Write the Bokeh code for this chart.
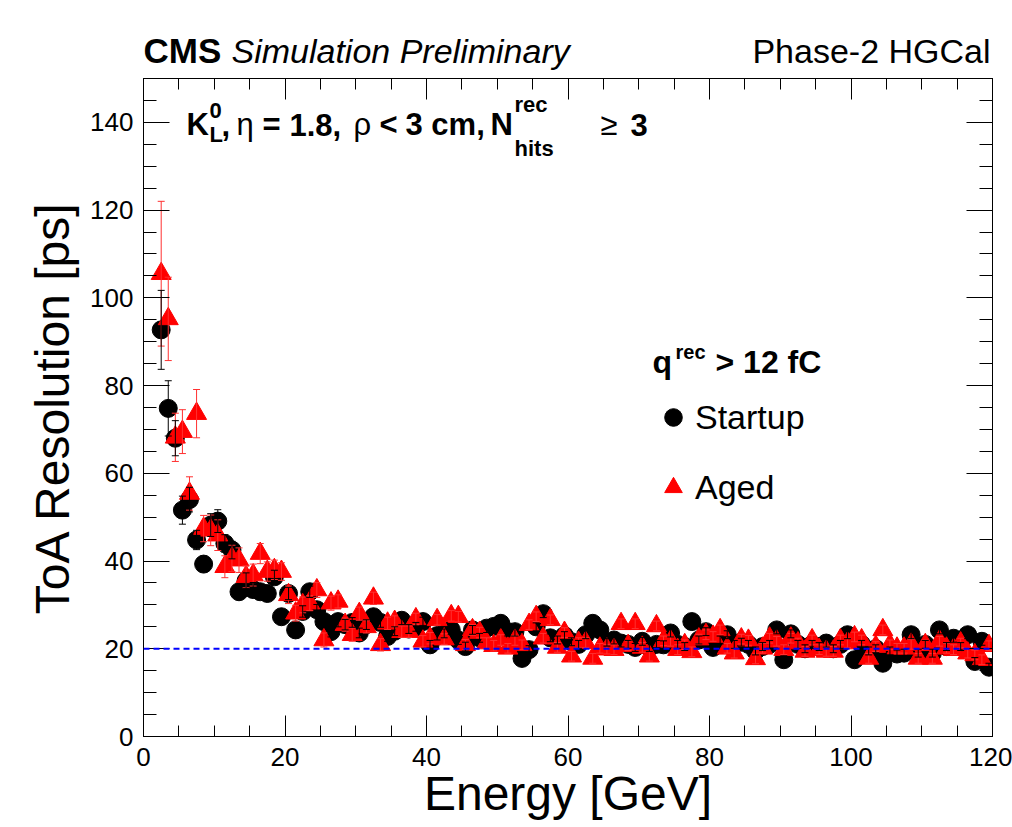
from bokeh.plotting import figure
from bokeh.layouts import column
from bokeh.models import (Range1d, ColumnDataSource, Whisker, TeeHead, Span, Label,
                          LinearAxis, SingleIntervalTicker, Legend, LegendItem,
                          CustomJSTickFormatter)
from bokeh.embed import file_html
from bokeh.resources import INLINE

# ---------------- data ----------------
energy = [2.5, 3.5, 4.5, 5.5, 6.5, 7.5, 8.5, 9.5, 10.5, 11.5, 12.5, 13.5, 14.5, 15.5,
          16.5, 17.5, 18.5, 19.5, 20.5, 21.5, 22.5, 23.5, 24.5, 25.5, 26.5, 27.5, 28.5,
          29.5, 30.5, 31.5, 32.5, 33.5, 34.5, 35.5, 36.5, 37.5, 38.5, 39.5, 40.5, 41.5,
          42.5, 43.5, 44.5, 45.5, 46.5, 47.5, 48.5, 49.5, 50.5, 51.5, 52.5, 53.5, 54.5,
          55.5, 56.5, 57.5, 58.5, 59.5, 60.5, 61.5, 62.5, 63.5, 64.5, 65.5, 66.5, 67.5,
          68.5, 69.5, 70.5, 71.5, 72.5, 73.5, 74.5, 75.5, 76.5, 77.5, 78.5, 79.5, 80.5,
          81.5, 82.5, 83.5, 84.5, 85.5, 86.5, 87.5, 88.5, 89.5, 90.5, 91.5, 92.5, 93.5,
          94.5, 95.5, 96.5, 97.5, 98.5, 99.5, 100.5, 101.5, 102.5, 103.5, 104.5, 105.5,
          106.5, 107.5, 108.5, 109.5, 110.5, 111.5, 112.5, 113.5, 114.5, 115.5, 116.5,
          117.5, 118.5, 119.5]

startup_res = [92.7, 74.8, 68.0, 51.6, 54.0, 44.8, 39.3, 48.2, 49.1, 44.0, 42.5, 33.0,
               35.5, 33.5, 33.0, 32.6, 36.4, 27.3, 32.6, 24.3, 28.5, 33.0, 28.9, 26.2,
               23.9, 26.2, 25.5, 26.0, 23.6, 25.5, 27.3, 26.0, 22.8, 24.0, 26.5, 24.5,
               25.0, 26.2, 20.9, 23.0, 23.5, 24.3, 22.0, 20.5, 24.3, 22.5, 24.7, 25.1,
               25.8, 23.9, 23.9, 17.8, 19.8, 25.0, 28.0, 22.5, 22.0, 23.0, 21.6, 21.0,
               23.2, 25.8, 24.3, 21.5, 22.0, 21.3, 21.0, 20.3, 21.7, 20.3, 21.0, 20.9,
               23.6, 21.0, 20.5, 26.2, 22.0, 23.9, 20.3, 22.0, 23.2, 21.0, 21.5, 21.0,
               19.5, 20.5, 21.0, 24.3, 17.5, 23.4, 21.0, 20.0, 21.0, 20.5, 21.3, 20.0,
               21.0, 23.2, 17.5, 21.0, 19.5, 20.0, 16.7, 19.5, 18.8, 19.0, 23.2, 19.0,
               21.0, 19.0, 24.3, 20.5, 22.4, 20.5, 23.2, 17.1, 21.7, 15.8]

startup_err = [9.0, 6.3, 4.0, 3.2, 2.8, 2.2, 1.8, 2.6, 2.6, 2.0, 2.0, 1.8, 1.8, 1.6, 1.6,
               1.5, 1.5, 1.4, 1.4, 1.3, 1.3, 1.3, 1.2, 1.2, 1.2, 1.2, 1.2, 1.1, 1.1, 1.1,
               1.1, 1.1, 1.1, 1.0, 1.0, 1.0, 1.0, 1.0, 1.0, 1.0, 1.0, 1.0, 1.0, 1.0, 1.0,
               1.0, 1.0, 1.0, 1.0, 1.0, 1.0, 0.9, 0.9, 0.9, 0.9, 0.9, 0.9, 0.9, 0.9, 0.9,
               0.9, 0.9, 0.9, 0.9, 0.9, 0.9, 0.9, 0.9, 0.9, 0.9, 0.9, 0.9, 0.9, 0.9, 0.9,
               0.9, 0.9, 0.9, 0.9, 0.9, 0.9, 0.9, 0.9, 0.9, 0.9, 0.9, 0.9, 0.9, 0.9, 0.9,
               0.9, 0.9, 0.9, 0.9, 0.9, 0.9, 0.9, 0.9, 0.9, 0.9, 0.9, 0.9, 0.9, 0.9, 0.9,
               0.9, 0.9, 0.9, 0.9, 0.9, 0.9, 0.9, 0.9, 0.9, 0.9, 0.9, 0.9, 0.9]

aged_res = [105.5, 95.2, 68.2, 69.5, 55.4, 73.6, 47.4, 47.0, 45.9, 38.7, 40.6, 40.2,
            36.4, 36.8, 41.7, 37.6, 38.0, 37.6, 32.3, 28.1, 30.0, 30.4, 33.4, 22.0,
            30.4, 30.8, 25.5, 23.2, 28.0, 25.0, 31.5, 20.9, 25.8, 26.2, 23.9, 23.9,
            26.8, 21.7, 22.4, 26.6, 22.2, 27.5, 27.3, 20.9, 24.3, 23.7, 21.3, 20.7,
            22.0, 20.1, 21.9, 20.9, 25.5, 27.3, 22.4, 26.6, 20.3, 23.7, 18.3, 21.4,
            21.4, 17.8, 20.1, 19.9, 19.8, 25.7, 20.7, 25.7, 20.3, 18.3, 25.2, 21.8,
            21.7, 19.8, 20.9, 19.3, 22.2, 23.2, 22.8, 24.3, 20.1, 19.0, 22.2, 21.9,
            17.7, 20.1, 22.4, 21.7, 19.8, 22.4, 21.3, 19.4, 22.0, 19.8, 19.4, 19.4,
            22.0, 21.3, 22.7, 22.0, 17.8, 20.5, 24.3, 20.9, 20.1, 20.1, 21.0, 17.8,
            20.9, 17.8, 21.7, 20.1, 19.8, 21.3, 19.0, 18.6, 17.5, 20.7]

aged_err = [16.5, 9.5, 5.5, 5.0, 3.8, 5.5, 3.0, 3.5, 3.5, 2.5, 3.0, 2.8, 2.5, 2.5, 2.3,
            2.2, 2.2, 2.0, 2.0, 1.8, 1.8, 1.7, 1.7, 1.6, 1.6, 1.5, 1.5, 1.5, 1.5, 1.4,
            1.4, 1.4, 1.4, 1.3, 1.3, 1.3, 1.3, 1.3, 1.3, 1.2, 1.2, 1.2, 1.2, 1.2, 1.2,
            1.2, 1.2, 1.2, 1.2, 1.1, 1.1, 1.1, 1.1, 1.1, 1.1, 1.1, 1.1, 1.1, 1.1, 1.1,
            1.1, 1.1, 1.1, 1.1, 1.1, 1.1, 1.1, 1.1, 1.1, 1.1, 1.1, 1.1, 1.1, 1.1, 1.1,
            1.1, 1.1, 1.1, 1.1, 1.1, 1.1, 1.1, 1.1, 1.1, 1.1, 1.1, 1.1, 1.1, 1.1, 1.1,
            1.1, 1.1, 1.1, 1.1, 1.1, 1.1, 1.1, 1.1, 1.1, 1.1, 1.1, 1.1, 1.1, 1.1, 1.1,
            1.1, 1.1, 1.1, 1.1, 1.1, 1.1, 1.1, 1.1, 1.1, 1.1, 1.1, 1.1, 1.1]

reference_res = 20
series_labels = ["Startup", "Aged"]
x_ticks_interval = 20
y_ticks_interval = 20

# ---------------- layout constants ----------------
FONT = "Liberation Sans"
W, H = 1012, 827
HEAD_H = 70                  # header strip height
FRAME_L, FRAME_R, FRAME_T, FRAME_B = 143, 992, 78, 736   # screen px
SHIFT = 0.3465               # empirical baseline correction (fraction of font size)

# ---------------- header strip ----------------
# (the column layout aligns this strip's frame with the main plot's frame,
#  so the x range is expressed in screen pixels of that frame)
head = figure(width=W, height=HEAD_H, x_range=Range1d(FRAME_L, FRAME_R),
              y_range=Range1d(0, HEAD_H),
              output_backend="svg", toolbar_location=None, min_border=0,
              x_axis_type=None, y_axis_type=None)
head.outline_line_color = None
head.grid.visible = False
head.background_fill_color = "white"
head.border_fill_color = "white"


def head_txt(text, xs, baseline, size, style, align="left"):
    head.add_layout(Label(x=xs, y=HEAD_H - baseline + SHIFT * size, text=text,
                          text_font=FONT, text_font_size=f"{size}px",
                          text_font_style=style, text_color="black",
                          text_align=align, text_baseline="alphabetic"))


head_txt("CMS", 143, 62, 35, "bold")
head_txt("Simulation Preliminary", 231, 62, 34, "italic")
head_txt("Phase-2 HGCal", 990, 62, 34, "normal", align="right")

# ---------------- main figure ----------------
MH = H - HEAD_H
p = figure(width=W, height=MH, x_range=Range1d(0, 120), y_range=Range1d(0, 150),
           output_backend="svg", toolbar_location=None,
           min_border_left=FRAME_L, min_border_right=W - FRAME_R,
           min_border_top=FRAME_T - HEAD_H, min_border_bottom=MH - (FRAME_B - HEAD_H))
p.xgrid.visible = False
p.ygrid.visible = False
p.outline_line_color = "black"
p.outline_line_width = 1
p.background_fill_color = "white"
p.border_fill_color = "white"

xt = SingleIntervalTicker(interval=x_ticks_interval, num_minor_ticks=4)
yt = SingleIntervalTicker(interval=y_ticks_interval, num_minor_ticks=4)


def style_axis(ax, tin, tmin):
    ax.axis_line_color = "black"
    ax.major_tick_line_color = "black"
    ax.minor_tick_line_color = "black"
    ax.major_tick_in = tin
    ax.major_tick_out = 0
    ax.minor_tick_in = tmin
    ax.minor_tick_out = 0
    ax.major_label_text_font = FONT
    ax.major_label_text_font_size = "26px"
    ax.major_label_text_color = "black"
    ax.axis_label_text_font = FONT
    ax.axis_label_text_font_size = "48px"
    ax.axis_label_text_font_style = "normal"
    ax.axis_label_text_color = "black"


p.xaxis.ticker = xt
p.yaxis.ticker = yt
style_axis(p.xaxis[0], 21, 11)
style_axis(p.yaxis[0], 26, 13)
p.xaxis.axis_label = "Energy [GeV]"
p.yaxis.axis_label = "ToA Resolution [ps]"
p.xaxis.major_label_standoff = 11
p.xaxis.axis_label_standoff = -2
p.yaxis.major_label_standoff = 10
p.yaxis.axis_label_standoff = 8

blank = CustomJSTickFormatter(code="return ''")
top_ax = LinearAxis(ticker=xt, formatter=blank, major_label_standoff=0)
right_ax = LinearAxis(ticker=yt, formatter=blank, major_label_standoff=0)
style_axis(top_ax, 21, 11)
style_axis(right_ax, 26, 13)
top_ax.major_label_text_font_size = "0px"
right_ax.major_label_text_font_size = "0px"
p.add_layout(top_ax, "above")
p.add_layout(right_ax, "right")

# ---------------- data marks ----------------
src_s = ColumnDataSource(dict(
    x=energy, y=startup_res,
    lo=[v - e for v, e in zip(startup_res, startup_err)],
    hi=[v + e for v, e in zip(startup_res, startup_err)]))
src_a = ColumnDataSource(dict(
    x=energy, y=aged_res,
    lo=[v - e for v, e in zip(aged_res, aged_err)],
    hi=[v + e for v, e in zip(aged_res, aged_err)]))

w_a = Whisker(base="x", upper="hi", lower="lo", source=src_a, line_color="#ff3030",
              line_width=1, level="glyph",
              upper_head=TeeHead(size=7, line_color="#ff3030", line_width=1),
              lower_head=TeeHead(size=7, line_color="#ff3030", line_width=1))
w_s = Whisker(base="x", upper="hi", lower="lo", source=src_s, line_color="black",
              line_width=1, level="glyph",
              upper_head=TeeHead(size=7, line_color="black", line_width=1),
              lower_head=TeeHead(size=7, line_color="black", line_width=1))
p.add_layout(w_a)
p.add_layout(w_s)

r_s = p.scatter("x", "y", source=src_s, marker="circle", size=18,
                fill_color="black", line_color="black")
r_a = p.scatter("x", "y", source=src_a, marker="triangle", size=20,
                fill_color="red", line_color="red")

p.add_layout(Span(location=reference_res, dimension="width", line_color="blue",
                  line_width=2, line_dash="6 4"))

# ---------------- legend ----------------
legend = Legend(items=[LegendItem(label=series_labels[0], renderers=[r_s]),
                       LegendItem(label=series_labels[1], renderers=[r_a])],
                location=(508, 224), orientation="vertical",
                glyph_width=44, glyph_height=50, spacing=20, padding=0, margin=0,
                label_standoff=0, label_height=50,
                label_text_font=FONT, label_text_font_size="34px",
                label_text_color="black",
                border_line_alpha=0, background_fill_alpha=0)
p.add_layout(legend)


# ---------------- texts inside the frame ----------------
def txt(text, xs, baseline, size, style="normal"):
    """xs, baseline: screen px; anchored to the frame's top-left corner."""
    p.add_layout(Label(x=0, y=150, x_units="data", y_units="data",
                       x_offset=xs - FRAME_L,
                       y_offset=-(baseline - FRAME_T) + SHIFT * size,
                       text=text, text_font=FONT,
                       text_font_size=f"{size}px", text_font_style=style,
                       text_color="black", text_align="left",
                       text_baseline="alphabetic"))


# process line
txt("K", 186, 135, 31, "bold")
txt("0", 209, 118, 22, "bold")
txt("L", 209, 142, 22, "bold")
txt(",", 221, 135, 31, "bold")
txt("\u03b7", 236, 135, 31, "normal")
txt("=", 262, 135, 31, "bold")
txt("1.8,", 289, 135, 31, "bold")
txt("\u03c1", 353, 135, 31, "normal")
txt("<", 379, 135, 31, "bold")
txt("3 cm,", 405, 135, 31, "bold")
txt("N", 490, 135, 31, "bold")
txt("rec", 514, 112, 22, "bold")
txt("hits", 514, 156, 22, "bold")
txt("\u2265", 600, 135, 31, "normal")
txt("3", 630, 135, 31, "bold")

# legend header
txt("q", 652, 373, 32, "bold")
txt("rec", 675, 358, 20, "bold")
txt("> 12 fC", 715, 373, 32, "bold")

open("out.html", "w").write(file_html(column(head, p, spacing=0), INLINE))
